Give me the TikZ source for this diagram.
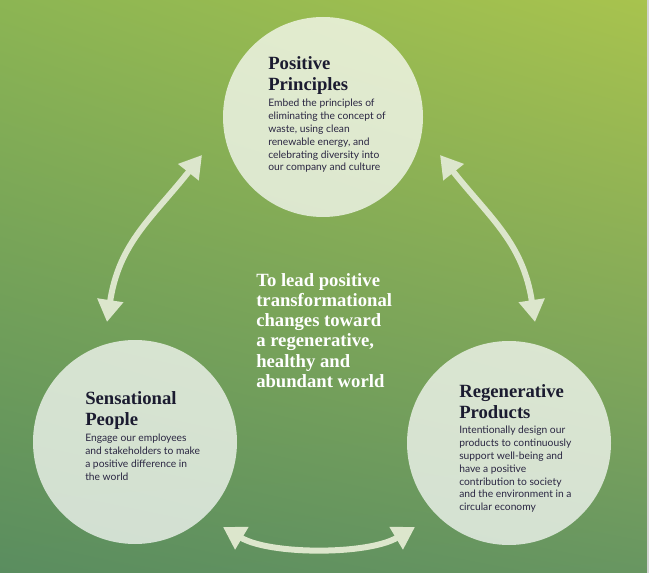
\documentclass[tikz,border=0pt]{standalone}
\usepackage{fontspec}
\setmainfont{Liberation Serif}
\setsansfont{Lato}
\usetikzlibrary{arrows.meta,shadings}
\definecolor{bgtl}{HTML}{8CB553}
\definecolor{bgtr}{HTML}{A8C34E}
\definecolor{bgbl}{HTML}{5A8D5F}
\definecolor{bgbr}{HTML}{689661}
\definecolor{edgec}{HTML}{D4D4D4}
\definecolor{arrowc}{HTML}{DCE6CC}
\definecolor{headc}{HTML}{1B1B30}
\definecolor{bodyc}{HTML}{2A2642}
\tikzset{>={Triangle[width=18.75pt,length=16.5pt]},
  disc/.style = {circle,fill=white,fill opacity=0.72,minimum size=#1,inner sep=0pt},
  flow/.style = {<->,line width=4.5pt,draw=arrowc},
  head/.style = {anchor=north west,inner sep=0pt,align=left,text=headc,
    font=\bfseries\fontsize{14}{15.75}\selectfont},
  blurb/.style = {anchor=north west,inner sep=0pt,align=left,text=bodyc,
    font=\sffamily\fontsize{7.7}{9.6}\selectfont},
  mission/.style = {anchor=north west,inner sep=0pt,align=left,text=white,
    font=\bfseries\fontsize{14}{15.15}\selectfont}
}
\begin{document}
\begin{tikzpicture}[x=0.75pt,y=-0.75pt]
  \useasboundingbox (0,0) rectangle (649,573);
  \shade[upper left=bgtl,upper right=bgtr,lower left=bgbl,lower right=bgbr] (0,0) rectangle (649,573);
  \fill[edgec] (647,0) rectangle (649,573);
  % circles
  \node[disc=150pt] (PP) at (323,117) {};
  \node[disc=153pt] (SP) at (135,442) {};
  \node[disc=153pt] (RP) at (509,443) {};
  % arrow ends
  \coordinate (PPl) at (202,155);
  \coordinate (PPr) at (440,155);
  \coordinate (SPu) at (107,322);
  \coordinate (SPd) at (223,527);
  \coordinate (RPu) at (535,322);
  \coordinate (RPd) at (415,527);
  \draw[flow] (SPu) .. controls (119,243) and (152,218) .. (PPl);
  \draw[flow] (PPr) .. controls (490,218) and (523,243) .. (RPu);
  \draw[flow] (SPd) .. controls (270,555) and (368,555) .. (RPd);
  % texts
  \node[head] (PPh) at (268,56) {Positive\\Principles};
  \node[blurb] (PPx) at (268,99) {Embed the principles of\\eliminating the concept of\\waste, using clean\\renewable energy, and\\celebrating diversity into\\our company and culture};
  \node[head] (SPh) at (85,391) {Sensational\\People};
  \node[blurb] (SPx) at (85,434) {Engage our employees\\and stakeholders to make\\a positive difference in\\the world};
  \node[head] (RPh) at (459,384) {Regenerative\\Products};
  \node[blurb] (RPx) at (459,426) {Intentionally design our\\products to continuously\\support well-being and\\have a positive\\contribution to society\\and the environment in a\\circular economy};
  \node[mission] (M) at (256,273) {To lead positive\\transformational\\changes toward\\a regenerative,\\healthy and\\abundant world};
\end{tikzpicture}
\end{document}
